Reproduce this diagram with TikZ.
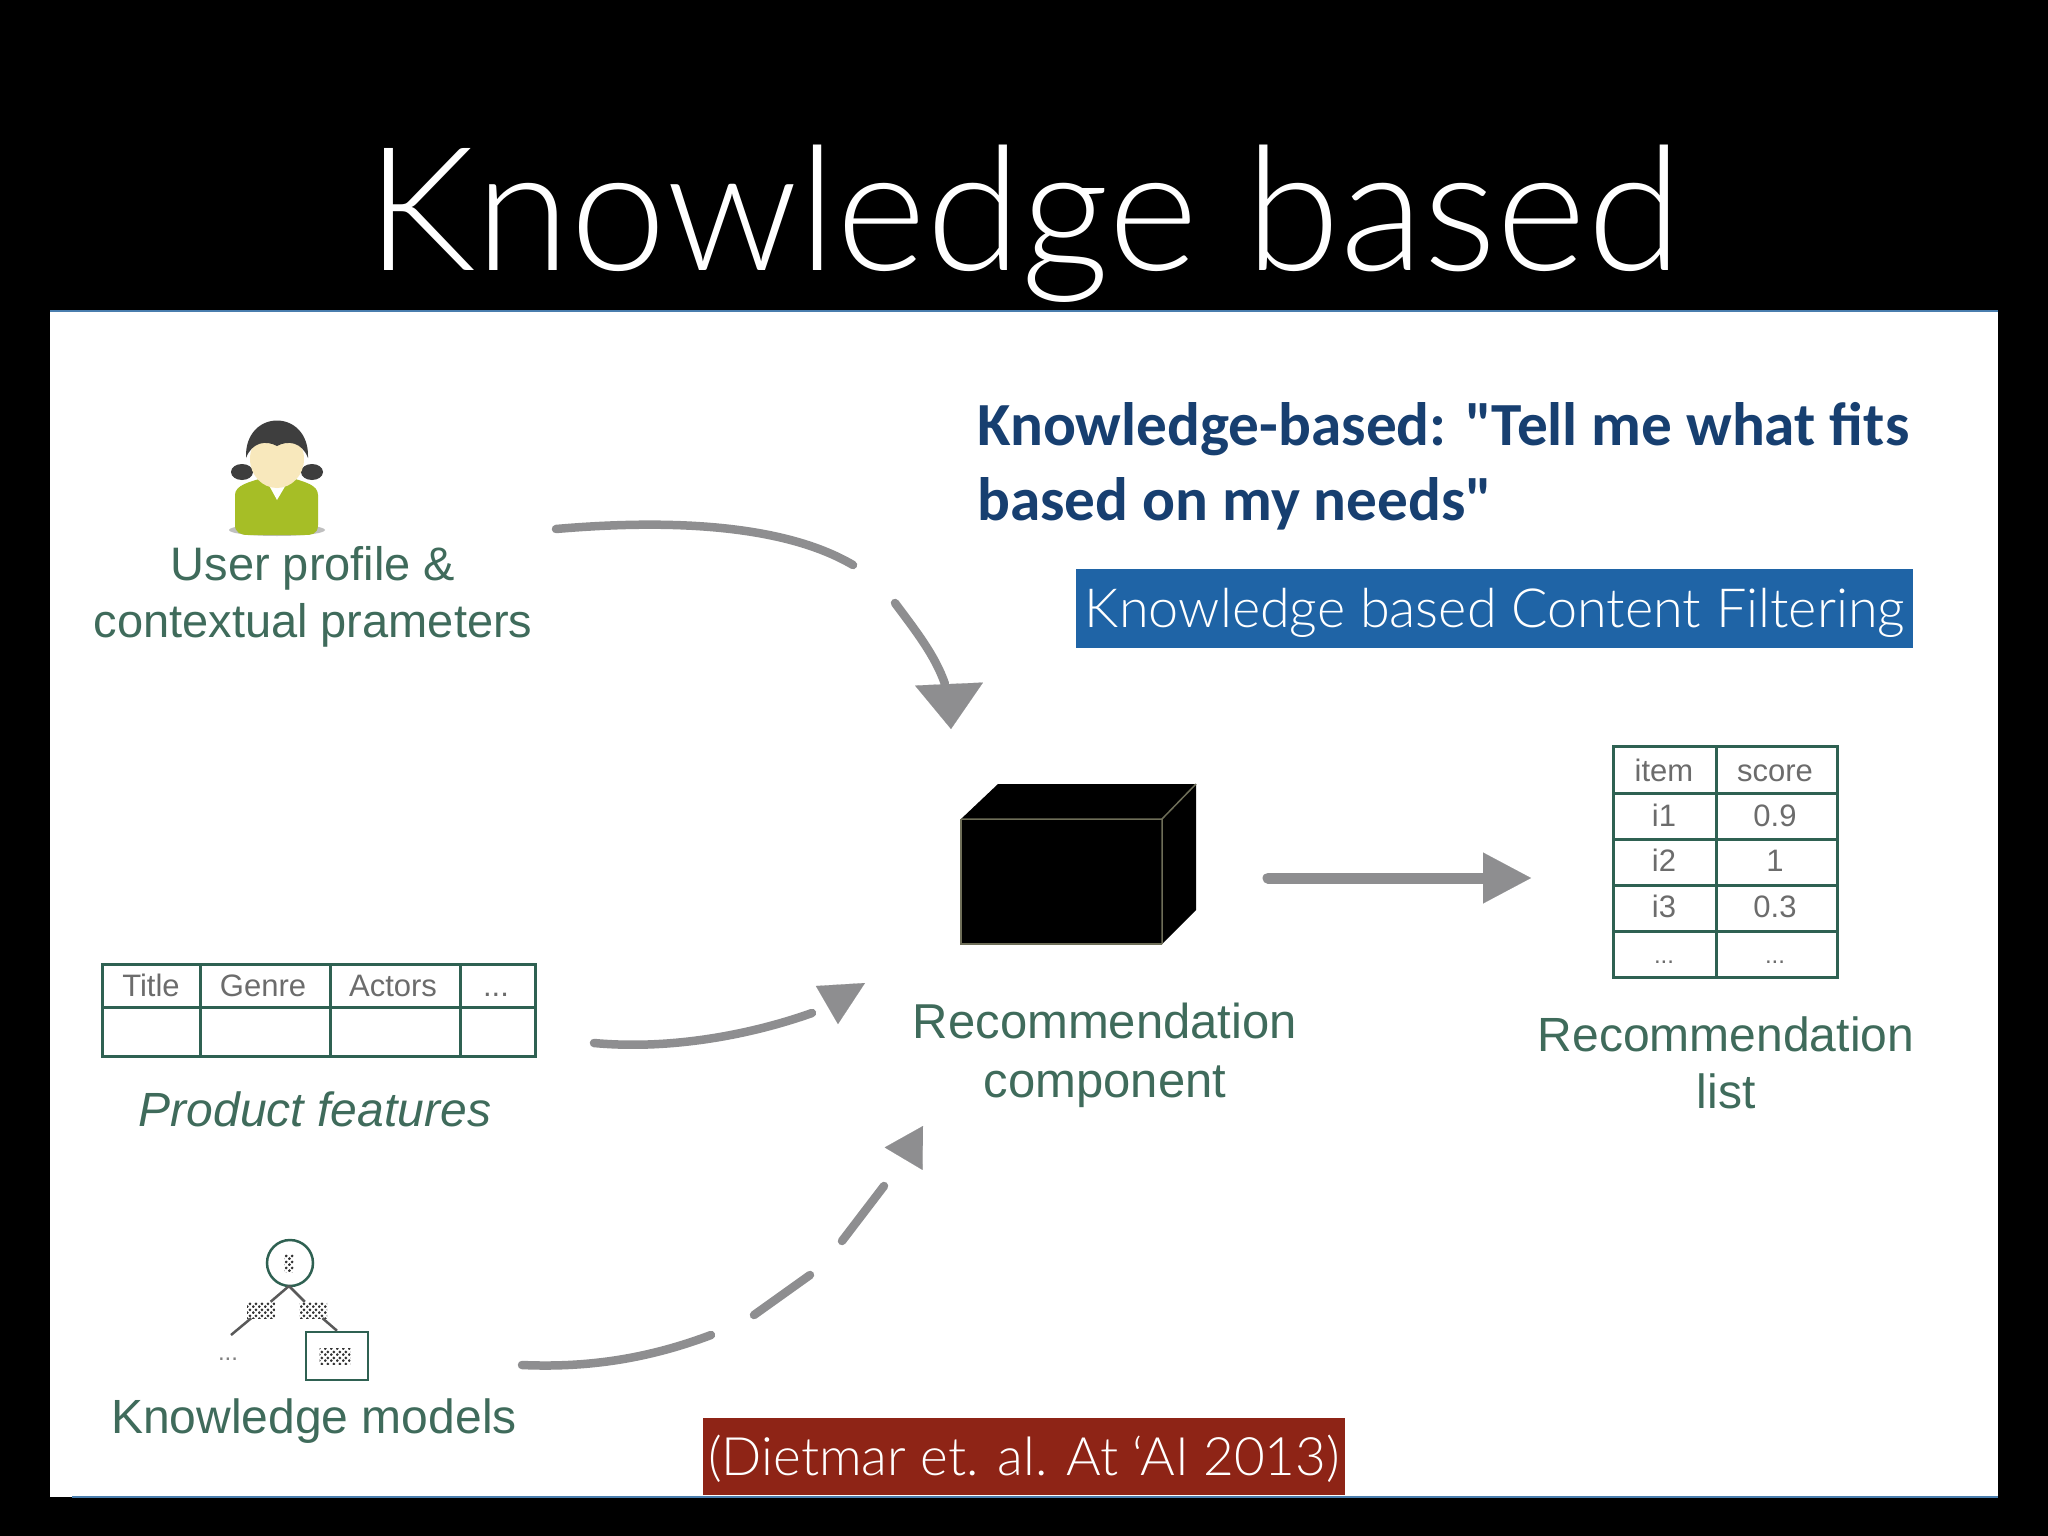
\documentclass[tikz,border=0pt]{standalone}
\usepackage{fontspec}
\setmainfont{Liberation Sans}
\newfontfamily\headf{Carlito}
\newfontfamily\lightf{Lato Light}
\usetikzlibrary{arrows.meta,patterns,calc}
\definecolor{lab}{HTML}{3F6B5B}
\definecolor{rule}{HTML}{2F6152}
\definecolor{arr}{HTML}{8E8E90}
\definecolor{navy}{HTML}{173F70}
\definecolor{bluebox}{HTML}{1F64A6}
\definecolor{redbox}{HTML}{8E2416}
\definecolor{panelline}{HTML}{4A7EAE}
\definecolor{shirt}{HTML}{A6BE26}
\definecolor{skin}{HTML}{F8E8BC}
\definecolor{hair}{HTML}{3E3E3E}
\definecolor{edgeb}{HTML}{6E6E58}
\pgfdeclarepatternformonly{dotmesh}{\pgfpointorigin}{\pgfqpoint{6pt}{6pt}}{\pgfqpoint{6pt}{6pt}}{%
  \pgfpathcircle{\pgfqpoint{1.5pt}{1.5pt}}{1.7pt}\pgfpathcircle{\pgfqpoint{4.5pt}{4.5pt}}{1.7pt}\pgfusepath{fill}}
\newcommand{\fs}[1]{\fontsize{#1}{#1}\selectfont}
\tikzset{
 x=1pt,y=-1pt,
 lbl/.style={text=lab,inner sep=0pt,anchor=base,font=\fs{48}},
 cell/.style={text=gray!85!black,inner sep=0pt,anchor=base,font=\fs{31}},
 flow/.style={draw=arr,line width=8.5pt,line cap=round},
 headtip/.style={draw=arr,fill=arr,line width=0.1pt},
 grid/.style={draw=rule,line width=3pt},
 hatchbox/.style={pattern=dotmesh,pattern color=black!80,inner sep=0pt,minimum height=16pt},
}
\begin{document}
\begin{tikzpicture}
\useasboundingbox (0,0) rectangle (2048,1536);
\fill[black] (0,0) rectangle (2048,1536);
% panel
\fill[white] (50,311) rectangle (1998,1497);
\draw[panelline,line width=1.5pt] (50,311) -- (1998,311);
\draw[panelline,line width=1.5pt] (72,1497) -- (1998,1497);
% title
\node[text=white,inner sep=0pt,anchor=base,font=\lightf\fs{172.5}] (title) at (1024,270) {Knowledge based};
% heading
\node[text=navy,inner sep=0pt,anchor=base west,font=\headf\bfseries\fs{61.3}] (h1) at (977,445) {Knowledge-based: "Tell me what fits};
\node[text=navy,inner sep=0pt,anchor=base west,font=\headf\bfseries\fs{61.3}] (h2) at (977,520) {based on my needs"};
% coloured labels
\node[fill=bluebox,minimum width=837pt,minimum height=79pt,inner sep=0pt,anchor=north west] (bb) at (1076,569) {};
\node[text=white,inner sep=0pt,font=\lightf\fs{54}] (bbt) at (1495,613) {Knowledge based Content Filtering};
\node[fill=redbox,minimum width=642pt,minimum height=77pt,inner sep=0pt,anchor=north west] (rb) at (703,1418) {};
\node[text=white,inner sep=0pt,font=\lightf\fs{53}] (rbt) at (1024,1459) {(Dietmar et. al. At ‘AI 2013)};
% person
\fill[gray!50] (277,530) ellipse (48 and 6);
\fill[hair] (242,472) ellipse (11 and 8) (312,472) ellipse (11 and 8);
\fill[shirt] (235,525) -- (235,495) .. controls (235,485) and (250,482) .. (262,478) -- (292,478) .. controls (305,482) and (318,485) .. (318,495) -- (318,525) .. controls (318,535) and (310,535) .. (305,535) -- (248,535) .. controls (240,535) and (235,532) .. (235,525) -- cycle;
\fill[white] (265,478) -- (277,500) -- (290,478) -- cycle;
\fill[skin] (277,459) ellipse (27 and 29);
\fill[hair] (246,458) .. controls (244,408) and (310,408) .. (308,458) .. controls (302,442) and (288,440) .. (277,446) .. controls (266,440) and (252,442) .. (246,458) -- cycle;
\node[lbl,font=\fs{47}] (u1) at (313,580) {User profile \&};
\node[lbl,font=\fs{47}] (u2) at (313,637) {contextual prameters};
% product table
\draw[grid] (102,964) rectangle (535,1056);
\draw[grid] (102,1007) -- (535,1007);
\foreach \px in {200,330,460} \draw[grid] (\px,964) -- (\px,1056);
\node[cell] (pa) at (151,996) {Title};
\node[cell] (pb) at (263,996) {Genre};
\node[cell] (pc) at (393,996) {Actors};
\node[cell] (pd) at (496,996) {...};
\node[lbl,font=\itshape\fs{48}] (pf) at (315,1126) {Product features};
% knowledge model
\node[circle,draw=rule,line width=2.5pt,minimum size=46pt,inner sep=0pt] (root) at (290,1263) {};
\node[hatchbox,minimum width=9pt,minimum height=18pt] (rooth) at (289,1263) {};
\node[hatchbox,minimum width=28pt] (hl) at (261,1310) {};
\node[hatchbox,minimum width=28pt] (hr) at (313,1310) {};
\node[draw=rule,line width=2.5pt,minimum width=62pt,minimum height=48pt,inner sep=0pt] (leaf) at (337,1356) {};
\node[hatchbox,minimum width=31pt] (lh) at (335,1356) {};
\coordinate (fork) at (289,1286);
\coordinate (lend) at (231,1335);
\draw[gray!70!black,line width=2.5pt] (fork) -- (hl);
\draw[gray!70!black,line width=2.5pt] (hl) -- (lend);
\draw[gray!70!black,line width=2.5pt] (fork) -- (hr);
\draw[gray!70!black,line width=2.5pt] (hr) -- (leaf.north);
\node[text=gray,inner sep=0pt,font=\fs{24}] (kd) at (228,1359) {...};
\node[lbl] (km) at (314,1433) {Knowledge models};
% black box
\coordinate (fa) at (961,819);
\coordinate (fb) at (1162,819);
\coordinate (fc) at (1162,944);
\coordinate (fd) at (961,944);
\coordinate (ba) at (998,784);
\coordinate (bb2) at (1196,784);
\coordinate (bc) at (1196,910);
\fill[black] (fa) -- (ba) -- (bb2) -- (bc) -- (fc) -- (fd) -- cycle;
\draw[edgeb,line width=1.5pt] (fa) -- (fb) -- (fc) (fb) -- (bb2);
\draw[edgeb,line width=1.5pt] (fa) -- (fd) -- (fc);
\node[lbl,font=\fs{49}] (rc1) at (1105,1038) {Recommendation};
\node[lbl,font=\fs{49}] (rc2) at (1105,1097) {component};
% list table
\draw[grid] (1613,746) rectangle (1837,977);
\foreach \ly in {793,839,885,931} \draw[grid] (1613,\ly) -- (1837,\ly);
\draw[grid] (1716,746) -- (1716,977);
\node[cell] (t1) at (1664,781) {item};
\node[cell] (t2) at (1775,781) {score};
\node[cell] (t3) at (1664,826) {i1};
\node[cell] (t4) at (1775,826) {0.9};
\node[cell] (t5) at (1664,871) {i2};
\node[cell] (t6) at (1775,871) {1};
\node[cell] (t7) at (1664,917) {i3};
\node[cell] (t8) at (1775,917) {0.3};
\node[cell,font=\fs{24}] (t9) at (1664,963) {...};
\node[cell,font=\fs{24}] (t10) at (1775,963) {...};
\node[lbl] (rl1) at (1726,1051) {Recommendation};
\node[lbl] (rl2) at (1726,1108) {list};
% arrows
\coordinate (a1s) at (556,529);
\coordinate (a1m) at (853,565);
\coordinate (a1n) at (895,603);
\coordinate (a1o) at (945,684);
\coordinate (a1b) at (949,684);
\coordinate (a1t) at (951,729);
\draw[flow] (a1s) .. controls (660,520) and (780,522) .. (a1m);
\draw[flow] (a1n) .. controls (915,630) and (935,655) .. (a1o);
\draw[headtip,-{Triangle[length=45pt,width=68pt]}] (a1b) -- (a1t);
\coordinate (a2s) at (594,1043);
\coordinate (a2e) at (812,1013);
\coordinate (a2b) at (827,1005);
\coordinate (a2t) at (865,983);
\draw[flow] (a2s) .. controls (670,1050) and (750,1035) .. (a2e);
\draw[headtip,-{Triangle[length=44pt,width=44pt]}] (a2b) -- (a2t);
\coordinate (a3s) at (522,1365);
\coordinate (a3m) at (711,1335);
\coordinate (a3n) at (754,1315);
\coordinate (a3o) at (810,1275);
\coordinate (a3p) at (842,1241);
\coordinate (a3q) at (884,1186);
\coordinate (a3b) at (904,1158);
\coordinate (a3t) at (923,1126);
\draw[flow] (a3s) .. controls (590,1368) and (650,1358) .. (a3m);
\draw[flow] (a3n) -- (a3o);
\draw[flow] (a3p) -- (a3q);
\draw[headtip,-{Triangle[length=38pt,width=44pt]}] (a3b) -- (a3t);
\coordinate (a4s) at (1268,878);
\coordinate (a4e) at (1490,878);
\coordinate (a4t) at (1531,878);
\draw[flow,line width=11pt] (a4s) -- (a4e);
\draw[headtip,-{Triangle[length=48pt,width=51pt]}] (a4e) -- (a4t);
\end{tikzpicture}
\end{document}
